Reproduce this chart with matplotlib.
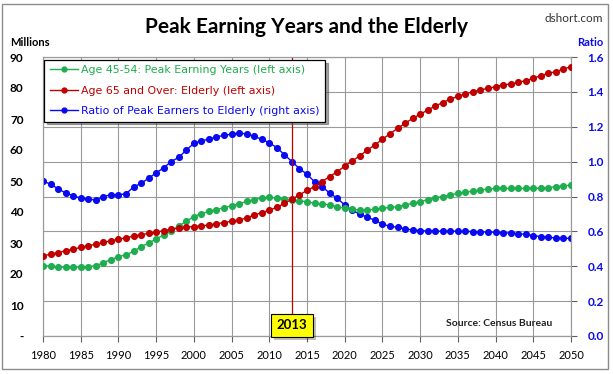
import matplotlib
matplotlib.use("Agg")
import matplotlib.pyplot as plt
import matplotlib.patheffects as pe
from matplotlib.patches import Rectangle
from matplotlib.lines import Line2D

years = list(range(1980, 2051))

peak_earners = [22.7, 22.5, 22.3, 22.2, 22.2, 22.3, 22.4, 22.6, 23.7, 24.6,
                25.6, 26.2, 27.3, 28.8, 30.0, 31.3, 32.6, 34.0, 35.5, 37.0,
                38.5, 39.5, 40.2, 40.8, 41.4, 42.0, 42.7, 43.4, 44.0, 44.5,
                44.7, 44.5, 44.2, 44.0, 43.6, 43.3, 42.8, 42.6, 42.3, 41.7,
                41.2, 40.9, 40.6, 40.6, 40.9, 41.2, 41.5, 41.7, 42.3, 42.8,
                43.3, 44.0, 44.6, 45.0, 45.5, 46.0, 46.3, 46.8, 47.1, 47.4,
                47.6, 47.6, 47.6, 47.6, 47.6, 47.6, 47.7, 47.9, 48.2, 48.4,
                48.7]

elderly = [25.8, 26.4, 26.9, 27.5, 28.0, 28.6, 29.1, 29.6, 30.2, 30.7,
           31.2, 31.7, 32.2, 32.7, 33.1, 33.5, 34.0, 34.4, 34.8, 35.1,
           35.3, 35.5, 35.8, 36.2, 36.6, 37.0, 37.4, 38.1, 39.0, 39.8,
           40.6, 41.5, 42.8, 44.1, 45.5, 47.0, 48.2, 49.8, 51.4, 53.0,
           54.8, 56.5, 58.1, 60.0, 61.6, 63.5, 65.2, 67.0, 68.6, 70.2,
           71.5, 72.9, 74.2, 75.3, 76.4, 77.3, 78.1, 78.8, 79.4, 79.9,
           80.4, 81.0, 81.3, 81.8, 82.4, 83.1, 84.0, 84.7, 85.3, 86.1,
           86.9]

ratio = [0.889, 0.870, 0.845, 0.820, 0.805, 0.790, 0.785, 0.780, 0.800, 0.810,
         0.810, 0.815, 0.855, 0.875, 0.905, 0.935, 0.965, 1.000, 1.025, 1.066,
         1.105, 1.120, 1.128, 1.143, 1.150, 1.158, 1.162, 1.160, 1.145, 1.128,
         1.108, 1.080, 1.040, 1.000, 0.960, 0.927, 0.885, 0.856, 0.820, 0.790,
         0.751, 0.720, 0.700, 0.680, 0.665, 0.640, 0.630, 0.623, 0.615, 0.608,
         0.604, 0.602, 0.601, 0.601, 0.601, 0.601, 0.600, 0.599, 0.597, 0.596,
         0.595, 0.593, 0.590, 0.587, 0.583, 0.576, 0.570, 0.566, 0.562, 0.560,
         0.560]

left_ticks = [0, 10, 20, 30, 40, 50, 60, 70, 80, 90]
left_labels = ["-", "10", "20", "30", "40", "50", "60", "70", "80", "90"]
right_ticks = [0.0, 0.2, 0.4, 0.6, 0.8, 1.0, 1.2, 1.4, 1.6]
x_ticks = list(range(1980, 2051, 5))
marker_year = 2013

GREEN = "#1EAE4F"
RED = "#C00000"
BLUE = "#0A0AF0"
GRID = "#9A9A9A"

plt.rcParams['font.family'] = ['Lato', 'DejaVu Sans']

fig = plt.figure(figsize=(6.13, 3.74), dpi=100)
fig.patch.set_facecolor("white")

# outer frame
frame = Rectangle((0.004, 0.014), 0.988, 0.975, transform=fig.transFigure,
                  fill=False, edgecolor="#8C8C8C", lw=1.0)
fig.patches.append(frame)

left = 43 / 613
right = 571 / 613
bottom = 1 - 336 / 374
top = 1 - 57 / 374
ax2 = fig.add_axes([left, bottom, right - left, top - bottom])
ax = ax2.twinx()
ax.yaxis.set_label_position("left")
ax.yaxis.tick_left()
ax2.yaxis.set_label_position("right")
ax2.yaxis.tick_right()
ax.set_zorder(ax2.get_zorder() + 1)
ax.patch.set_visible(False)

for a in (ax, ax2):
    a.set_xlim(1980, 2050)
    for s in a.spines.values():
        s.set_color(GRID)
        s.set_linewidth(0.8)

ax2.set_ylim(0, 1.6)
ax.set_ylim(0, 90)

ax2.set_yticks(right_ticks)
ax2.set_yticklabels([f"{v:.1f}" for v in right_ticks])
ax2.grid(axis="y", color=GRID, lw=0.8)
ax2.set_xticks(x_ticks)
ax2.grid(axis="x", color=GRID, lw=0.8)
ax2.tick_params(axis="y", labelsize=8.5, length=4, width=0.8,
                pad=8, direction="out", color="#606060", labelcolor=BLUE)
for t in ax2.get_yticklabels():
    t.set_fontweight("bold")
ax2.tick_params(axis="x", labelsize=8, length=4, color="#606060", pad=6)
ax2.spines["bottom"].set_color("#707070")

ax.set_xticks(x_ticks)
ax.tick_params(axis="x", bottom=False, labelbottom=False)
ax.set_yticks(left_ticks)
ax.set_yticklabels(left_labels)
ax.tick_params(axis="y", length=0, pad=14, labelsize=8.5)
for t in ax.get_yticklabels():
    t.set_fontweight("bold")

# series
ax2.plot(years, ratio, color=BLUE, lw=1, marker="o", ms=4.1, mec=BLUE, zorder=3)
ax.plot(years, peak_earners, color=GREEN, lw=1, marker="o", ms=4.1, mec=GREEN, zorder=3)
ax.plot(years, elderly, color=RED, lw=1, marker="o", ms=4.1, mec=RED, zorder=3)

# 2013 marker line + label
ax.axvline(marker_year, color=RED, lw=0.9, zorder=2)
lbl = ax.text(marker_year, 3.4, str(marker_year), ha="center", va="center",
              fontsize=9.5, fontweight="bold", zorder=6,
              bbox=dict(boxstyle="square,pad=0.42", fc="#FFFF00", ec="black", lw=0.8))
lbl.get_bbox_patch().set_path_effects(
    [pe.SimplePatchShadow(offset=(2, -2), shadow_rgbFace="black", alpha=0.25), pe.Normal()])

ax.text(2047.5, 3.9, "Source: Census Bureau", ha="right", va="center",
        fontsize=7.5, fontweight="bold", color="#222222")

# legend
handles = [
    Line2D([], [], color=GREEN, lw=1, marker="o", ms=3.5),
    Line2D([], [], color=RED, lw=1, marker="o", ms=3.5),
    Line2D([], [], color=BLUE, lw=1, marker="o", ms=3.5),
]
labels = ["Age 45-54: Peak Earning Years (left axis)",
          "Age 65 and Over: Elderly (left axis)",
          "Ratio of Peak Earners to Elderly (right axis)"]
leg = ax.legend(handles, labels, loc="upper left", bbox_to_anchor=(0.002, 0.99),
                prop={"family": "DejaVu Sans", "size": 7.9},
                frameon=True, fancybox=False, shadow=True,
                handlelength=2.6, handletextpad=0.3, borderpad=0.5,
                labelspacing=0.95, borderaxespad=0.0)
leg.get_frame().set_edgecolor("black")
leg.get_frame().set_linewidth(0.9)
for txt, col in zip(leg.get_texts(), [GREEN, RED, BLUE]):
    txt.set_color(col)
leg.set_zorder(10)

# titles
fig.text(0.5, 1 - 27 / 374, "Peak Earning Years and the Elderly", ha="center",
         va="center", fontsize=15, fontweight="bold")
fig.text(1 - 10 / 613, 1 - 18 / 374, "dshort.com", ha="right", va="center",
         fontsize=8.5, color="#333333")
fig.text(10 / 613, 1 - 42 / 374, "Millions", ha="left", va="center",
         fontsize=8, fontweight="bold")
fig.text(1 - 10 / 613, 1 - 42 / 374, "Ratio", ha="right", va="center",
         fontsize=8, fontweight="bold", color=BLUE)

fig.savefig("out.png", dpi=100, facecolor="white")
